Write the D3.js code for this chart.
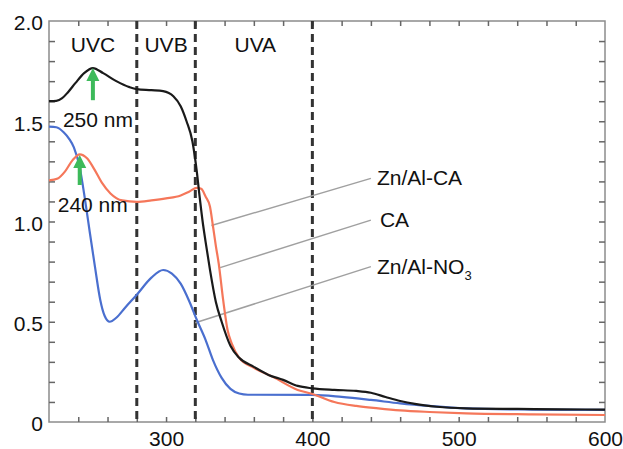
<!DOCTYPE html>
<html>
<head>
<meta charset="utf-8">
<script src="https://cdn.jsdelivr.net/npm/d3@7"></script>
<style>
  body { margin: 0; background: #fff; }
  text { font-family: "Liberation Sans", Arial, sans-serif; fill: #111; }
</style>
</head>
<body>
<div id="chart"></div>
<script>
// wavelength (nm), absorbance
const znAlCA = [
  [220, 1.60], [225, 1.602], [229, 1.615], [233, 1.645], [238, 1.69], [244, 1.74],
  [250, 1.765], [257, 1.74], [266, 1.70], [275, 1.67], [280, 1.66], [290, 1.655],
  [298, 1.65], [305, 1.625], [310, 1.575], [314, 1.50], [318, 1.40], [321, 1.25],
  [323, 1.12], [325, 1.00], [327, 0.90], [330, 0.76], [334, 0.60], [338, 0.50],
  [344, 0.38], [350, 0.32], [360, 0.275], [370, 0.235], [380, 0.21], [390, 0.18],
  [400, 0.168], [415, 0.16], [430, 0.155], [440, 0.146], [450, 0.125], [460, 0.105],
  [470, 0.09], [485, 0.076], [505, 0.068], [540, 0.065], [570, 0.063], [600, 0.062]
];
const ca = [
  [220, 1.205], [226, 1.215], [231, 1.25], [236, 1.305], [241, 1.335], [246, 1.315],
  [251, 1.26], [256, 1.195], [262, 1.14], [270, 1.105], [280, 1.098], [290, 1.105],
  [300, 1.115], [310, 1.13], [316, 1.15], [321, 1.168], [324, 1.163], [327, 1.125],
  [330, 1.075], [332, 0.98], [334, 0.88], [336, 0.79], [339, 0.61], [342, 0.46],
  [345, 0.39], [350, 0.32], [360, 0.27], [373, 0.225], [390, 0.16], [400, 0.14],
  [415, 0.10], [430, 0.08], [445, 0.068], [460, 0.058], [480, 0.05], [505, 0.043],
  [550, 0.038], [600, 0.035]
];
const znAlNO3 = [
  [220, 1.473], [225, 1.47], [230, 1.445], [234, 1.41], [237, 1.37], [241, 1.27],
  [244.6, 1.11], [248, 0.94], [251.4, 0.775], [255, 0.61], [258, 0.53], [261.5, 0.50],
  [266, 0.52], [272, 0.57], [280, 0.635], [290, 0.72], [298, 0.758], [304, 0.74],
  [310, 0.69], [316, 0.60], [321, 0.51], [327, 0.41], [332, 0.31], [338, 0.22],
  [344, 0.165], [350, 0.142], [356, 0.136], [400, 0.135], [420, 0.125], [440, 0.11],
  [460, 0.093], [480, 0.08], [505, 0.068], [550, 0.062], [600, 0.06]
];

const xTicksLabelled = [300, 400, 500, 600];
const xTicksMinor = [240, 260, 280, 300, 320, 340, 360, 380, 400, 420, 440, 460, 480, 500, 520, 540, 560, 580];
const yTicksLabelled = [0, 0.5, 1.0, 1.5, 2.0];
const yTicksMinor = [0.1, 0.2, 0.3, 0.4, 0.5, 0.6, 0.7, 0.8, 0.9, 1.0, 1.1, 1.2, 1.3, 1.4, 1.5, 1.6, 1.7, 1.8, 1.9];

const bandEdges = [280, 320, 400];
const bandNames = ["UVC", "UVB", "UVA"];
const bandLabelX = [250, 300, 361];

const peakX = [250, 241];
const peakFrom = [1.605, 1.182];
const peakTo = [1.765, 1.332];
const peakLabels = ["250 nm", "240 nm"];

const seriesNames = ["Zn/Al-CA", "CA", "Zn/Al-NO"];
const leaderStart = [[331, 0.98], [337, 0.77], [320, 0.495]];
const leaderEnd = [[440, 1.215], [440, 1.007], [440, 0.775]];

const svg = d3.select("#chart").append("svg")
  .attr("width", 623).attr("height", 449);

const margin = { top: 21, left: 49, right: 18, bottom: 27 };
const width = 623 - margin.left - margin.right;
const height = 449 - margin.top - margin.bottom;
const fs = 21;

const chart = svg.append("g").attr("transform", `translate(${margin.left},${margin.top})`);

const x = d3.scaleLinear().domain([220, 600]).range([0, width]);
const y = d3.scaleLinear().domain([0, 2]).range([height, 0]);

// frame + inward ticks
chart.append("rect").attr("width", width).attr("height", height)
  .attr("fill", "#fff").attr("stroke", "#8c8c8c").attr("stroke-width", 1.5);

function tickAxis(axis, tr) {
  const g = chart.append("g").attr("transform", tr).call(axis);
  g.select(".domain").remove();
  g.selectAll(".tick line").attr("stroke", "#666").attr("stroke-width", 1.5);
  return g;
}
tickAxis(d3.axisBottom(x).tickValues(xTicksMinor).tickSize(-5).tickFormat(""), `translate(0,${height})`);
tickAxis(d3.axisTop(x).tickValues(xTicksMinor).tickSize(-5).tickFormat(""), "translate(0,0)");
tickAxis(d3.axisLeft(y).tickValues(yTicksMinor).tickSize(-6).tickFormat(""), "translate(0,0)");
tickAxis(d3.axisRight(y).tickValues(yTicksMinor).tickSize(-6).tickFormat(""), `translate(${width},0)`);

const xl = chart.append("g").attr("transform", `translate(0,${height})`)
  .call(d3.axisBottom(x).tickValues(xTicksLabelled).tickSize(0).tickPadding(9));
xl.select(".domain").remove();
xl.selectAll("text").attr("font-size", fs).attr("fill", "#111")
  .attr("font-family", "Liberation Sans, Arial, sans-serif");

const yl = chart.append("g")
  .call(d3.axisLeft(y).tickValues(yTicksLabelled).tickSize(0).tickPadding(6)
    .tickFormat(d => d === 0 ? "0" : d.toFixed(1)));
yl.select(".domain").remove();
yl.selectAll("text").attr("font-size", fs).attr("fill", "#111").attr("dy", "0.42em")
  .attr("font-family", "Liberation Sans, Arial, sans-serif");

// band separators
chart.selectAll(".band").data(bandEdges).join("line")
  .attr("x1", d => x(d)).attr("x2", d => x(d))
  .attr("y1", y(2)).attr("y2", y(0))
  .attr("stroke", "#333").attr("stroke-width", 3).attr("stroke-dasharray", "8,5");

chart.selectAll(".bandLabel").data(bandNames).join("text")
  .attr("x", (d, i) => x(bandLabelX[i])).attr("y", y(1.845))
  .attr("text-anchor", "middle").attr("font-size", fs).text(d => d);

// leader lines
chart.selectAll(".leader").data(leaderStart).join("line")
  .attr("x1", d => x(d[0])).attr("y1", d => y(d[1]))
  .attr("x2", (d, i) => x(leaderEnd[i][0])).attr("y2", (d, i) => y(leaderEnd[i][1]))
  .attr("stroke", "#a0a0a0").attr("stroke-width", 1.5);

const line = d3.line().x(d => x(d[0])).y(d => y(d[1])).curve(d3.curveMonotoneX);

chart.append("path").datum(znAlNO3).attr("d", line)
  .attr("fill", "none").attr("stroke", "#4a6fcf").attr("stroke-width", 2.2);
chart.append("path").datum(ca).attr("d", line)
  .attr("fill", "none").attr("stroke", "#f5775a").attr("stroke-width", 2.2);
chart.append("path").datum(znAlCA).attr("d", line)
  .attr("fill", "none").attr("stroke", "#1a1a1a").attr("stroke-width", 2.2);

// series labels
const lab = chart.selectAll(".seriesLabel").data(seriesNames).join("text")
  .attr("x", (d, i) => x(leaderEnd[i][0]) + (i === 1 ? 9 : 6))
  .attr("y", (d, i) => y(leaderEnd[i][1]) + 7)
  .attr("font-size", fs).text(d => d);
lab.filter((d, i) => i === 2).append("tspan")
  .attr("font-size", 13).attr("dy", 6).text("3");

// peak arrows
const green = "#3dba5a";
peakX.forEach((px, i) => {
  const cx = x(px), top = y(peakTo[i]), bot = y(peakFrom[i]);
  chart.append("line").attr("x1", cx).attr("x2", cx)
    .attr("y1", top + 10).attr("y2", bot)
    .attr("stroke", green).attr("stroke-width", 4);
  chart.append("path")
    .attr("d", `M${cx},${top} L${cx - 6.5},${top + 13} L${cx + 6.5},${top + 13} Z`)
    .attr("fill", green);
});

chart.selectAll(".peakLabel").data(peakLabels).join("text")
  .attr("x", (d, i) => x(peakX[i]) - (i === 0 ? 30 : 22))
  .attr("y", (d, i) => y(peakFrom[i]) + 27)
  .attr("font-size", fs).text(d => d);
</script>
</body>
</html>
